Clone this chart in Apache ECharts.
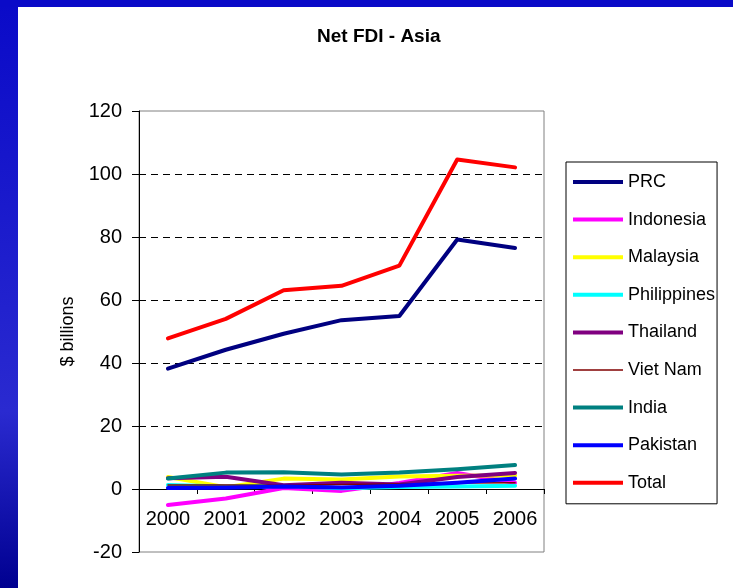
<!DOCTYPE html>
<html>
<head>
<meta charset="utf-8">
<script src="https://cdn.jsdelivr.net/npm/echarts@6/dist/echarts.min.js"></script>
<style>
  html, body { margin: 0; padding: 0; background: #fff; }
  #chart { width: 733px; height: 588px; }
</style>
</head>
<body>
<div id="chart"></div>
<script>
const years = ['2000', '2001', '2002', '2003', '2004', '2005', '2006']
const prc = [38.2, 44.2, 49.3, 53.6, 54.9, 79.2, 76.5]
const indonesia = [-5.1, -3.0, 0.3, -0.6, 1.9, 5.1, 2.0]
const malaysia = [3.8, 0.6, 3.3, 3.0, 4.0, 4.2, 4.3]
const philippines = [1.3, 0.8, 1.0, 0.2, 0.6, 0.8, 1.0]
const thailand = [3.4, 3.9, 1.2, 2.0, 1.4, 3.8, 5.1]
const vietNam = [1.3, 1.3, 1.2, 1.4, 1.6, 1.9, 2.0]
const india = [3.3, 5.2, 5.3, 4.6, 5.2, 6.3, 7.6]
const pakistan = [0.3, 0.4, 0.8, 0.5, 1.0, 2.0, 3.3]
const total = [47.8, 54.0, 63.1, 64.5, 70.9, 104.6, 102.1]

const font = "'Liberation Sans', Arial, sans-serif"

const makeLine = (name, data, color, width) => ({
  name,
  type: 'line',
  data,
  symbol: 'none',
  showSymbol: false,
  lineStyle: { color, width: width || 4, cap: 'round', join: 'round' },
  itemStyle: { color },
  emphasis: { disabled: true }
})

const legendNames = ['PRC', 'Indonesia', 'Malaysia', 'Philippines', 'Thailand', 'Viet Nam', 'India', 'Pakistan', 'Total']

const chart = echarts.init(document.getElementById('chart'))
chart.setOption({
  backgroundColor: '#fff',
  animation: false,
  title: {
    text: 'Net FDI - Asia',
    left: 312,
    top: 22,
    textStyle: { fontFamily: font, fontSize: 19, fontWeight: 'bold', color: '#000' }
  },
  graphic: [
    {
      type: 'rect',
      shape: { x: 0, y: 0, width: 18, height: 588 },
      style: {
        fill: new echarts.graphic.LinearGradient(0, 0, 0, 1, [
          { offset: 0, color: '#0a0ac8' },
          { offset: 0.7, color: '#2a2ad0' },
          { offset: 1, color: '#000090' }
        ])
      },
      z: 0
    },
    {
      type: 'rect',
      shape: { x: 0, y: 0, width: 733, height: 7 },
      style: { fill: '#0a0ac8' },
      z: 0
    }
  ],
  legend: {
    orient: 'vertical',
    left: 566,
    top: 162,
    icon: 'rect',
    itemWidth: 50,
    itemHeight: 4,
    itemGap: 19.6,
    padding: [11, 2, 12, 7],
    borderColor: '#000',
    borderWidth: 1,
    textStyle: { fontFamily: font, fontSize: 18, color: '#000' },
    data: legendNames.map((n) => (n === 'Viet Nam' ? { name: n, icon: 'path://M0,0 L50,0 L50,1.5 L0,1.5 Z' } : n))
  },
  grid: {
    left: 139,
    right: 189,
    top: 111,
    bottom: 36,
    show: true,
    borderColor: '#808080',
    borderWidth: 1,
    containLabel: false
  },
  xAxis: {
    type: 'category',
    data: years,
    boundaryGap: true,
    offset: -63,
    axisLine: { onZero: false, lineStyle: { color: '#000', width: 1 } },
    axisTick: { show: true, alignWithLabel: false, length: 5, lineStyle: { color: '#000' } },
    axisLabel: { margin: 20, fontFamily: font, fontSize: 20, color: '#000' },
    splitLine: { show: false }
  },
  yAxis: {
    type: 'value',
    min: -20,
    max: 120,
    interval: 20,
    name: '$ billions',
    nameLocation: 'middle',
    nameGap: 62,
    nameRotate: 90,
    nameTextStyle: { fontFamily: font, fontSize: 18, color: '#000' },
    axisLine: { show: true, lineStyle: { color: '#000', width: 1 } },
    axisTick: { show: true, length: 7, lineStyle: { color: '#000' } },
    axisLabel: { margin: 17, fontFamily: font, fontSize: 20, color: '#000' },
    splitLine: {
      show: true,
      showMinLine: false,
      showMaxLine: false,
      lineStyle: { color: '#000', width: 1, type: [7, 5] }
    }
  },
  series: [
    makeLine('PRC', prc, '#000080'),
    makeLine('Indonesia', indonesia, '#ff00ff'),
    makeLine('Malaysia', malaysia, '#ffff00'),
    makeLine('Philippines', philippines, '#00ffff'),
    makeLine('Thailand', thailand, '#800080'),
    makeLine('Viet Nam', vietNam, '#800000', 1.5),
    makeLine('India', india, '#008080'),
    makeLine('Pakistan', pakistan, '#0000ff'),
    makeLine('Total', total, '#ff0000')
  ]
})
</script>
</body>
</html>
